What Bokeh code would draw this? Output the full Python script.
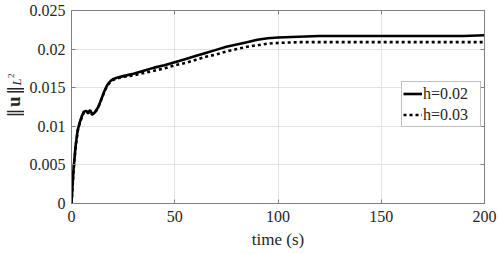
import numpy as np
from bokeh.plotting import figure
from bokeh.layouts import row
from bokeh.models import (LinearAxis, FixedTicker, Range1d, Legend, LegendItem)
from bokeh.core.properties import value
from bokeh.embed import file_html
from bokeh.resources import INLINE

# ---- data ----
time_s = [0, 1, 2, 3, 4, 5, 6, 7, 8, 9, 10, 11, 12, 13, 14, 15, 16, 17, 18, 19, 20,
          22, 25, 30, 35, 40, 45, 50, 55, 60, 65, 70, 75, 80, 85, 90, 95, 100,
          110, 120, 130, 140, 150, 160, 170, 180, 190, 200]
u_h002 = [0, 0.0045, 0.0075, 0.0095, 0.0105, 0.0113, 0.0119, 0.0120, 0.0118, 0.0121,
          0.0116, 0.0117, 0.0121, 0.0125, 0.0132, 0.0139, 0.0146, 0.0152, 0.0156, 0.0159,
          0.0161, 0.0163, 0.0165, 0.0168, 0.0172, 0.0176, 0.0179, 0.0183, 0.0187, 0.0191,
          0.0195, 0.0199, 0.0203, 0.0206, 0.0209, 0.0212, 0.0214, 0.0215, 0.0216, 0.0217,
          0.0217, 0.0217, 0.0217, 0.0217, 0.0217, 0.0217, 0.0217, 0.0218]
u_h003 = [0, 0.0043, 0.0073, 0.0094, 0.0104, 0.0112, 0.0118, 0.0119, 0.0117, 0.0119,
          0.0115, 0.0117, 0.0120, 0.0125, 0.0132, 0.0139, 0.0145, 0.0151, 0.0155, 0.0158,
          0.0160, 0.0162, 0.0164, 0.0166, 0.0169, 0.0172, 0.0175, 0.0179, 0.0182, 0.0186,
          0.0190, 0.0193, 0.0197, 0.0200, 0.0203, 0.0205, 0.0207, 0.0208, 0.0209, 0.0209,
          0.0209, 0.0209, 0.0209, 0.0209, 0.0209, 0.0209, 0.0209, 0.0209]
series_labels = ["h=0.02", "h=0.03"]
x_ticks = [0, 50, 100, 150, 200]
y_ticks = [0, 0.005, 0.01, 0.015, 0.02, 0.025]
y_tick_labels = ["0", "0.005", "0.01", "0.015", "0.02", "0.025"]
x_label = "time (s)"
y_label_parts = ["‖", "u", "‖", "L", "2"]

FONT = "Liberation Serif"
AX = "#808080"
TXT = "#262626"
LW = 24  # width of the y-label strip

# ---- y-label strip ----
q = figure(width=LW, height=254, output_backend="svg", toolbar_location=None,
           x_range=Range1d(0, LW), y_range=Range1d(254, 0),
           x_axis_type=None, y_axis_type=None, min_border=0)
q.outline_line_color = None
q.grid.visible = False
q.background_fill_color = "white"
q.border_fill_color = "white"
rot = np.pi / 2
q.text(x=[13], y=[135], text=[y_label_parts[0]], angle=rot, text_font=value("DejaVu Serif"),
       text_font_size="19px", text_align="center", text_baseline="middle", text_color=TXT)
q.text(x=[13], y=[120], text=[y_label_parts[1]], angle=rot, text_font=value(FONT),
       text_font_size="19px", text_font_style="bold", text_align="center",
       text_baseline="middle", text_color=TXT)
q.text(x=[13], y=[105], text=[y_label_parts[2]], angle=rot, text_font=value("DejaVu Serif"),
       text_font_size="19px", text_align="center", text_baseline="middle", text_color=TXT)
q.text(x=[16], y=[94], text=[y_label_parts[3]], angle=rot, text_font=value(FONT),
       text_font_size="13px", text_font_style="italic", text_align="center",
       text_baseline="middle", text_color=TXT)
q.text(x=[10], y=[86], text=[y_label_parts[4]], angle=rot, text_font=value(FONT),
       text_font_size="9px", text_align="center", text_baseline="middle", text_color=TXT)

# ---- main plot ----
p = figure(width=498 - LW, height=254, output_backend="svg", toolbar_location=None,
           x_range=Range1d(0, 200), y_range=Range1d(0, 0.025),
           min_border_left=71 - LW, min_border_right=14, min_border_top=10,
           min_border_bottom=51)
p.outline_line_color = AX
p.background_fill_color = "white"
p.border_fill_color = "white"

for ax in (p.xaxis[0], p.yaxis[0]):
    ax.axis_line_color = AX
    ax.major_tick_line_color = AX
    ax.major_tick_in = 4
    ax.major_tick_out = 0
    ax.minor_tick_line_color = None
    ax.major_label_text_font = FONT
    ax.major_label_text_font_size = "16px"
    ax.major_label_text_color = TXT

p.xaxis.ticker = FixedTicker(ticks=x_ticks)
p.yaxis.ticker = FixedTicker(ticks=y_ticks)
p.yaxis.major_label_overrides = {t: l for t, l in zip(y_ticks, y_tick_labels)}
p.yaxis.major_label_standoff = 6
p.xaxis.major_label_standoff = 7
p.xaxis.axis_label = x_label
p.xaxis.axis_label_text_font = FONT
p.xaxis.axis_label_text_font_size = "17px"
p.xaxis.axis_label_text_font_style = "normal"
p.xaxis.axis_label_text_color = TXT
p.xaxis.axis_label_standoff = 5

# box ticks on right/top
for loc, tick in (("right", y_ticks), ("above", x_ticks)):
    a = LinearAxis(ticker=FixedTicker(ticks=tick))
    a.axis_line_color = AX
    a.major_tick_line_color = AX
    a.major_tick_in = 4
    a.major_tick_out = 0
    a.minor_tick_line_color = None
    a.major_label_overrides = {t: "" for t in tick}
    a.major_label_text_color = None
    a.major_label_text_font_size = "1px"
    a.major_label_standoff = 0
    p.add_layout(a, loc)

p.xgrid.ticker = FixedTicker(ticks=x_ticks)
p.ygrid.ticker = FixedTicker(ticks=y_ticks)
p.grid.grid_line_color = "#e3e3e3"
p.grid.grid_line_width = 1

r1 = p.line(time_s, u_h002, line_color="black", line_width=2.6)
r2 = p.line(time_s, u_h003, line_color="black", line_width=2.6, line_dash="3 3")

legend = Legend(items=[LegendItem(label=series_labels[0], renderers=[r1]),
                       LegendItem(label=series_labels[1], renderers=[r2])],
                location=(330, 76))
legend.label_text_font = FONT
legend.label_text_font_size = "16px"
legend.label_text_color = TXT
legend.border_line_color = AX
legend.border_line_width = 1
legend.background_fill_alpha = 1
legend.padding = 1
legend.spacing = 0
legend.margin = 0
legend.glyph_width = 19
legend.glyph_height = 21
legend.label_height = 21
legend.label_width = 56
legend.label_standoff = 1
p.add_layout(legend, "center")

layout = row(q, p, spacing=0)
open("out.html", "w").write(file_html(layout, INLINE))
